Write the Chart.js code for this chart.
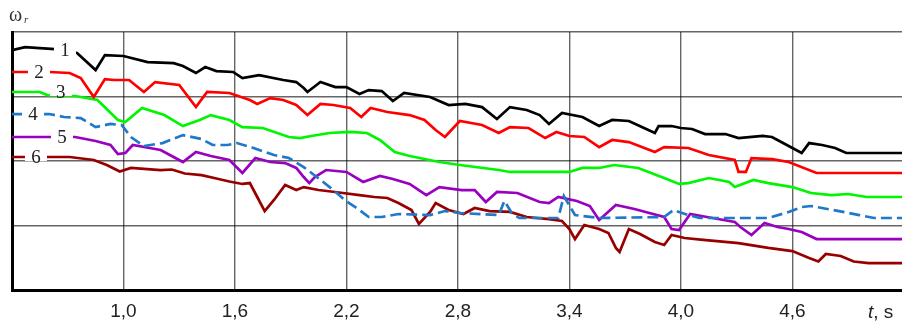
<!DOCTYPE html>
<html>
<head>
<meta charset="utf-8">
<script src="https://cdn.jsdelivr.net/npm/chart.js@4.4.1/dist/chart.umd.min.js"></script>
<style>
  html, body { margin: 0; padding: 0; background: #fff; }
  #wrap { width: 902px; height: 322px; }
</style>
</head>
<body>
<div id="wrap"><canvas id="SpeedChart" width="902" height="322"></canvas></div>
<script>
// time axis ticks (s)
const xTicks = [1.0, 1.6, 2.2, 2.8, 3.4, 4.0, 4.6];

// curve 1
const t1 = [0.40,0.47,0.63,0.75,0.85,0.90,1.00,1.13,1.27,1.32,1.39,1.44,1.50,1.59,1.64,1.73,1.86,1.93,1.97,1.99,2.06,2.14,2.20,2.27,2.32,2.39,2.45,2.51,2.65,2.75,2.84,2.93,3.01,3.08,3.17,3.24,3.29,3.36,3.47,3.56,3.63,3.72,3.79,3.86,3.88,3.95,4.00,4.06,4.13,4.24,4.31,4.44,4.49,4.54,4.65,4.69,4.76,4.83,4.89,5.19];
const w1 = [186.0,188.3,186.8,183.7,170.5,182.1,181.4,176.7,175.9,173.6,168.2,172.8,169.7,169.0,164.3,166.6,162.8,161.2,156.6,153.5,161.2,157.3,157.3,151.9,155.0,154.2,146.5,152.7,149.6,143.4,144.2,141.8,132.5,141.8,139.5,135.6,128.7,137.2,134.1,127.1,131.8,131.0,126.3,121.7,127.1,127.1,125.6,124.8,120.9,120.9,117.8,119.4,118.6,114.7,106.2,113.9,112.4,110.1,106.2,106.2];

// curve 2
const t2 = [0.40,0.50,0.60,0.71,0.77,0.84,0.90,0.95,1.03,1.11,1.17,1.30,1.39,1.45,1.57,1.68,1.72,1.79,1.86,1.93,1.96,1.99,2.06,2.13,2.22,2.28,2.33,2.42,2.54,2.62,2.68,2.73,2.81,2.93,3.02,3.08,3.18,3.27,3.33,3.40,3.48,3.56,3.63,3.72,3.86,3.91,4.04,4.15,4.29,4.31,4.35,4.38,4.49,4.58,4.73,5.19];
const w2 = [169.0,169.0,169.0,168.2,164.3,149.6,163.5,162.8,162.8,153.5,161.2,158.9,141.8,153.5,152.7,147.3,144.2,148.8,147.3,143.4,139.5,135.6,144.2,143.4,141.1,134.1,141.1,138.0,135.6,131.8,124.0,118.6,131.0,127.9,121.7,126.3,125.6,117.8,122.5,119.4,118.6,110.8,116.3,114.7,107.0,110.8,110.1,104.6,100.8,91.5,91.5,102.3,101.5,99.2,90.7,90.7];

// curve 3
const t3 = [0.40,0.55,0.59,0.74,0.86,0.97,1.01,1.10,1.22,1.32,1.41,1.47,1.57,1.64,1.75,1.89,1.95,2.01,2.11,2.22,2.31,2.38,2.46,2.54,2.70,2.81,3.02,3.08,3.26,3.40,3.47,3.56,3.64,3.77,3.91,3.99,4.04,4.15,4.26,4.29,4.39,4.47,4.60,4.70,4.81,4.90,5.00,5.19];
const w3 = [153.5,153.5,151.1,150.4,147.3,131.8,130.2,141.1,135.6,127.1,131.8,135.6,131.8,126.3,125.6,118.6,117.8,119.4,121.7,122.5,121.7,116.3,107.0,103.9,99.2,96.9,93.0,91.5,91.5,91.5,94.6,94.6,96.9,94.6,86.8,82.2,82.9,86.8,83.7,79.8,85.3,82.9,79.8,75.2,73.6,74.4,72.1,72.1];

// curve 4 (dashed)
const t4 = [0.40,0.60,0.68,0.77,0.85,0.93,0.99,1.04,1.11,1.21,1.32,1.42,1.48,1.56,1.61,1.70,1.81,1.89,1.97,2.04,2.13,2.19,2.27,2.32,2.39,2.48,2.65,2.73,2.81,3.02,3.05,3.09,3.13,3.34,3.37,3.43,3.56,3.91,3.96,4.04,4.10,4.47,4.58,4.65,4.70,4.82,4.96,5.04,5.19];
const w4 = [136.4,136.4,134.1,133.3,126.3,128.7,127.9,118.6,111.6,113.9,120.1,117.0,112.4,112.4,113.9,110.1,104.6,102.3,95.3,87.6,77.5,69.8,62.0,56.6,56.6,58.9,58.1,61.2,59.7,58.1,69.0,59.7,55.8,55.8,72.9,58.1,55.8,56.6,62.0,58.1,55.8,55.8,60.5,64.3,65.1,62.0,58.1,55.8,55.8];

// curve 5
const t5 = [0.40,0.60,0.74,0.85,0.93,0.97,1.01,1.05,1.20,1.32,1.39,1.47,1.57,1.64,1.71,1.79,1.87,1.93,1.97,2.00,2.03,2.09,2.20,2.29,2.38,2.45,2.54,2.63,2.70,2.82,2.89,2.95,3.01,3.12,3.24,3.29,3.34,3.44,3.51,3.56,3.65,3.75,3.81,3.91,3.95,3.99,4.05,4.17,4.29,4.32,4.38,4.45,4.52,4.58,4.65,4.73,5.19];
const w5 = [118.6,118.6,118.6,115.5,112.4,105.4,106.2,112.4,108.5,99.2,107.0,103.9,100.8,90.7,102.3,99.2,98.4,94.6,87.6,82.9,87.6,93.0,91.5,83.7,88.4,86.0,82.2,73.6,79.8,77.5,77.5,68.2,76.0,75.2,68.2,67.4,72.1,69.0,65.1,54.3,65.9,62.8,60.5,56.6,47.3,46.5,58.9,55.8,52.7,48.8,42.6,51.9,48.8,47.3,45.0,39.5,39.5];

// curve 6
const t6 = [0.40,0.50,0.58,0.71,0.84,0.91,0.98,1.04,1.20,1.26,1.33,1.42,1.50,1.57,1.64,1.68,1.72,1.76,1.81,1.87,1.93,1.97,2.05,2.16,2.27,2.35,2.42,2.48,2.55,2.59,2.65,2.68,2.75,2.83,2.89,2.97,3.08,3.17,3.29,3.36,3.40,3.43,3.48,3.56,3.61,3.65,3.67,3.72,3.78,3.86,3.91,3.95,4.02,4.12,4.31,4.47,4.60,4.69,4.74,4.78,4.86,4.93,5.01,5.19];
const w6 = [103.1,103.1,103.1,103.1,100.8,96.9,91.8,94.6,93.0,93.4,90.3,89.1,86.4,84.1,82.2,82.9,72.1,61.2,69.8,81.4,77.5,79.8,77.5,75.6,73.6,72.1,71.3,67.4,62.0,51.2,60.5,67.4,62.0,58.9,63.6,61.2,60.5,56.6,55.0,53.5,47.3,39.5,50.4,47.3,44.2,32.6,29.5,47.3,43.4,37.2,34.9,42.6,40.3,38.8,36.4,32.6,30.2,24.8,22.1,27.9,26.4,22.1,20.9,20.9];

const curveNames = ['1', '2', '3', '4', '5', '6'];
// where the number sits on each curve (time)
const labelTimes = [0.685, 0.545, 0.663, 0.513, 0.669, 0.529];

function toPoints(t, w) {
    return t.map((v, i) => ({ x: v, y: w[i] }));
}

const series = [
    { t: t1, w: w1, color: '#000000' },
    { t: t2, w: w2, color: '#ff0000' },
    { t: t3, w: w3, color: '#00f500' },
    { t: t4, w: w4, color: '#1f78c8', dash: [11, 5] },
    { t: t5, w: w5, color: '#9a00bf' },
    { t: t6, w: w6, color: '#980000' },
];

// numbers on the curves with a white gap behind them, plus axis captions
const textPlugin = {
    id: 'curveText',
    afterDatasetsDraw(chart) {
        const ctx = chart.ctx;
        const xs = chart.scales.x;
        const ys = chart.scales.y;
        ctx.save();
        curveNames.forEach((name, i) => {
            const px = xs.getPixelForValue(labelTimes[i]);
            const py = ys.getPixelForValue(series[i].w[0]);
            ctx.fillStyle = '#fff';
            ctx.fillRect(px - 11, py - 4, 22, 8);
            ctx.fillStyle = '#222';
            ctx.font = '19px "Liberation Serif"';
            ctx.textAlign = 'center';
            ctx.textBaseline = 'middle';
            ctx.fillText(name, px, py + 1);
        });

        // y caption
        ctx.textAlign = 'left';
        ctx.textBaseline = 'alphabetic';
        ctx.fillStyle = '#333';
        ctx.font = '20px "Liberation Serif"';
        ctx.fillText('ω', 9, 21);
        ctx.font = 'italic 11px "Liberation Serif"';
        ctx.fillText('r', 24, 23);

        // x caption
        ctx.fillStyle = '#222';
        ctx.font = 'italic 19px "Liberation Sans"';
        ctx.fillText('t', 868, 318);
        const tw = ctx.measureText('t').width;
        ctx.font = '19px "Liberation Sans"';
        ctx.fillText(', s', 868 + tw, 318);
        ctx.restore();
    }
};

const ctx = document.getElementById('SpeedChart').getContext('2d');
const SpeedChart = new Chart(ctx, {
    type: 'line',
    data: {
        datasets: series.map((s, i) => ({
            label: curveNames[i],
            data: toPoints(s.t, s.w),
            borderColor: s.color,
            borderWidth: 2.7,
            borderDash: s.dash || [],
            pointRadius: 0,
            tension: 0,
            fill: false,
        })),
    },
    options: {
        responsive: false,
        animation: false,
        layout: { padding: { left: 12, top: 32, right: 0, bottom: 0 } },
        plugins: {
            legend: { display: false },
            tooltip: { enabled: false },
        },
        scales: {
            x: {
                type: 'linear',
                min: 0.4,
                max: 5.19,
                afterBuildTicks: (scale) => {
                    scale.ticks = xTicks.map(v => ({ value: v }));
                },
                afterFit: (scale) => { scale.height = 32; },
                ticks: {
                    autoSkip: false,
                    maxRotation: 0,
                    padding: 10,
                    color: '#222',
                    font: { family: 'Liberation Sans', size: 19 },
                    callback: (v) => v.toFixed(1).replace('.', ','),
                },
                grid: { color: 'rgba(0,0,0,0.6)', lineWidth: 1.4, drawTicks: false },
                border: { color: '#000', width: 3 },
            },
            y: {
                min: 0,
                max: 200,
                afterFit: (scale) => { scale.width = 0; },
                ticks: { display: false, stepSize: 50 },
                grid: { color: 'rgba(0,0,0,0.6)', lineWidth: 1.4, drawTicks: false },
                border: { color: '#000', width: 3 },
            },
        },
    },
    plugins: [textPlugin],
});
</script>
</body>
</html>
